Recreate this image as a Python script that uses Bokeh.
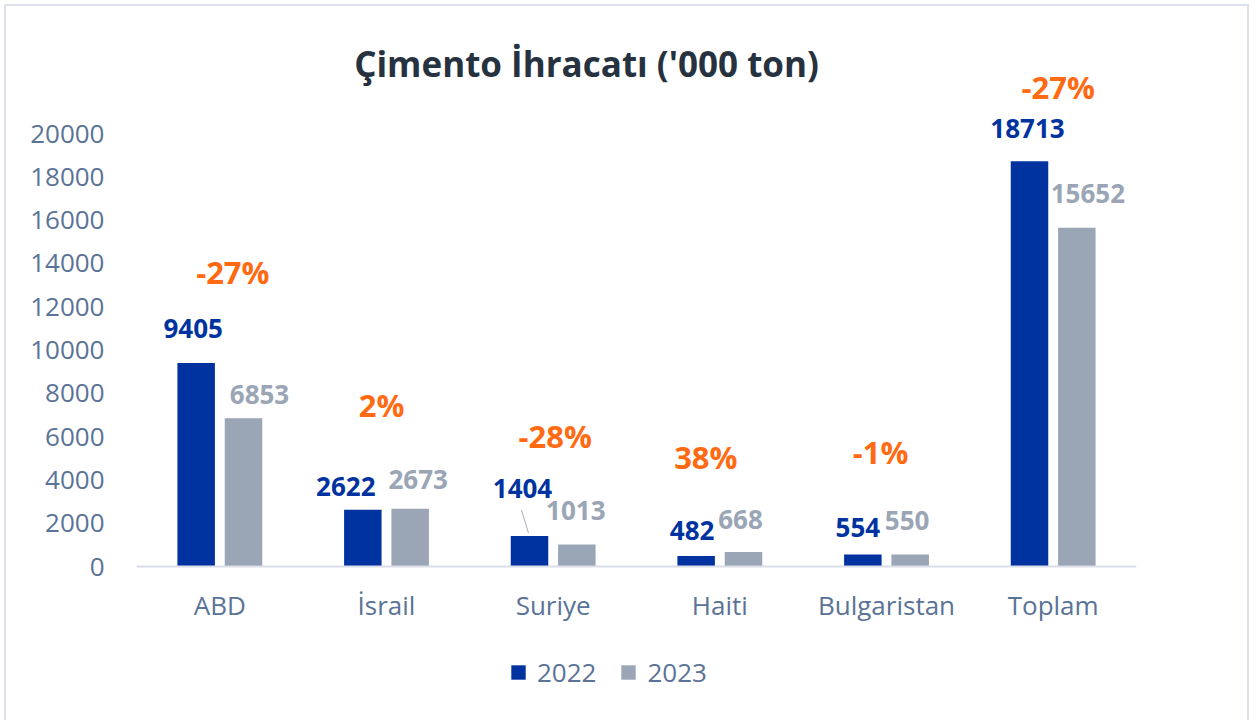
from bokeh.plotting import figure
from bokeh.models import (ColumnDataSource, FactorRange, FixedTicker, Label,
                          Legend, LegendItem, Range1d)
from bokeh.transform import dodge
from bokeh.core.properties import value
from bokeh.embed import file_html
from bokeh.resources import INLINE

# ---------------- data ----------------
categories = ["ABD", "İsrail", "Suriye", "Haiti", "Bulgaristan", "Toplam"]
exports_2022 = [9405, 2622, 1404, 482, 554, 18713]
exports_2023 = [6853, 2673, 1013, 668, 550, 15652]
change_labels = ["-27%", "2%", "-28%", "38%", "-1%", "-27%"]
years = ["2022", "2023"]
y_ticks = [0, 2000, 4000, 6000, 8000, 10000, 12000, 14000, 16000, 18000, 20000]
title_text = "Çimento İhracatı ('000 ton)"

# ---------------- label layout (pixel nudges, as placed in the original) ----------------
lab22_dx = [-3, -17, -7, -4, -5, -2]
lab22_up = [34, 23, 48, 26, 27, 33]
lab23_dx = [16, 8, -1, -3, -3, 11]
lab23_up = [24, 29, 34, 33, 34, 34]
pct_dx = [13, -5, 2, -14, -6, 5]
pct_up = [91, 104, 100, 95, 103, 74]
leader_cat = "Suriye"          # leader line from the 2022 label to its bar
leader_px = (-8, 26, -1, 3)    # (dx0, up0, dx1, up1) relative to the bar top

# ---------------- styles ----------------
C22 = "#0033A0"
C23 = "#9AA5B5"
ORANGE = "#FF6A13"
TICK = "#5A7396"
TITLE = "#263240"
AXIS = "#D9DEE8"
FONT = "Open Sans"

FRAME_W = 1000
PX = 433 / 20000          # pixels per data unit
ABOVE_PX = 546            # frame pixels above the zero line
BELOW_PX = 150            # frame pixels below the zero line (axis labels, legend)
OFF = 0.142
BAR_W = 0.225
px_per_cat = FRAME_W / len(categories)

src = ColumnDataSource(dict(
    cat=categories, v22=exports_2022, v23=exports_2023,
    t22=[str(v) for v in exports_2022], t23=[str(v) for v in exports_2023],
    pct=change_labels,
    ptop=[max(a, b) for a, b in zip(exports_2022, exports_2023)],
    dx22=lab22_dx, dy22=[-u for u in lab22_up],
    dx23=lab23_dx, dy23=[-u for u in lab23_up],
    dxp=pct_dx, dyp=[-u for u in pct_up],
))

p = figure(x_range=FactorRange(*categories, range_padding=0),
           y_range=Range1d(-BELOW_PX / PX, ABOVE_PX / PX),
           width=1241, height=714,
           min_border_left=130, min_border_right=111,
           min_border_top=14, min_border_bottom=4,
           output_backend="svg", toolbar_location=None)
p.styles = {"margin-left": "6px", "margin-top": "6px",
            "outline": "2px solid #DCE1EA"}
p.outline_line_color = None
p.xgrid.visible = False
p.ygrid.visible = False
p.background_fill_color = "white"
p.border_fill_color = "white"

r22 = p.vbar(x=dodge("cat", -OFF, range=p.x_range), top="v22", width=BAR_W,
             source=src, fill_color=C22, line_color=None)
r23 = p.vbar(x=dodge("cat", OFF, range=p.x_range), top="v23", width=BAR_W,
             source=src, fill_color=C23, line_color=None)

# value labels
p.text(x=dodge("cat", -OFF, range=p.x_range), y="v22", text="t22", source=src,
       x_offset="dx22", y_offset="dy22", text_align="center", text_baseline="middle",
       text_font=value(FONT), text_font_style="bold", text_font_size="26px",
       text_color=C22)
p.text(x=dodge("cat", OFF, range=p.x_range), y="v23", text="t23", source=src,
       x_offset="dx23", y_offset="dy23", text_align="center", text_baseline="middle",
       text_font=value(FONT), text_font_style="bold", text_font_size="26px",
       text_color=C23)
# percentage labels
p.text(x="cat", y="ptop", text="pct", source=src,
       x_offset="dxp", y_offset="dyp", text_align="center", text_baseline="middle",
       text_font=value(FONT), text_font_style="bold", text_font_size="31px",
       text_color=ORANGE)

# leader line
i = categories.index(leader_cat)
lsrc = ColumnDataSource(dict(
    c=[leader_cat],
    y0=[exports_2022[i] + leader_px[1] / PX],
    y1=[exports_2022[i] + leader_px[3] / PX],
))
p.segment(x0=dodge("c", -OFF + leader_px[0] / px_per_cat, range=p.x_range), y0="y0",
          x1=dodge("c", -OFF + leader_px[2] / px_per_cat, range=p.x_range), y1="y1",
          source=lsrc, line_color="#A6AFBD", line_width=1)

# axes
p.yaxis.ticker = FixedTicker(ticks=y_ticks)
p.yaxis.axis_line_color = None
p.yaxis.major_tick_line_color = None
p.yaxis.minor_tick_line_color = None
p.yaxis.major_label_standoff = 26
p.yaxis.major_label_text_font = FONT
p.yaxis.major_label_text_font_size = "26px"
p.yaxis.major_label_text_color = TICK

p.xaxis.fixed_location = 0
p.xaxis.axis_line_color = AXIS
p.xaxis.axis_line_width = 2
p.xaxis.major_tick_line_color = None
p.xaxis.minor_tick_line_color = None
p.xaxis.major_label_standoff = 14
p.xaxis.major_label_text_font = FONT
p.xaxis.major_label_text_font_size = "26px"
p.xaxis.major_label_text_color = TICK

# title (screen units, from the frame's bottom-left corner)
p.add_layout(Label(x=450, y=653, x_units="screen", y_units="screen", text=title_text,
                   text_align="center", text_baseline="middle", text_font=FONT,
                   text_font_style="bold", text_font_size="35px", text_color=TITLE))

# legend
legend = Legend(items=[LegendItem(label=years[0], renderers=[r22]),
                       LegendItem(label=years[1], renderers=[r23])],
                location=(373, 26), orientation="horizontal",
                glyph_width=18, glyph_height=18, label_standoff=10, spacing=23,
                padding=0, margin=0, border_line_color=None,
                background_fill_alpha=0,
                label_text_font=FONT, label_text_font_size="26px",
                label_text_color=TICK)
p.add_layout(legend, "center")

open("out.html", "w").write(file_html(p, INLINE))
